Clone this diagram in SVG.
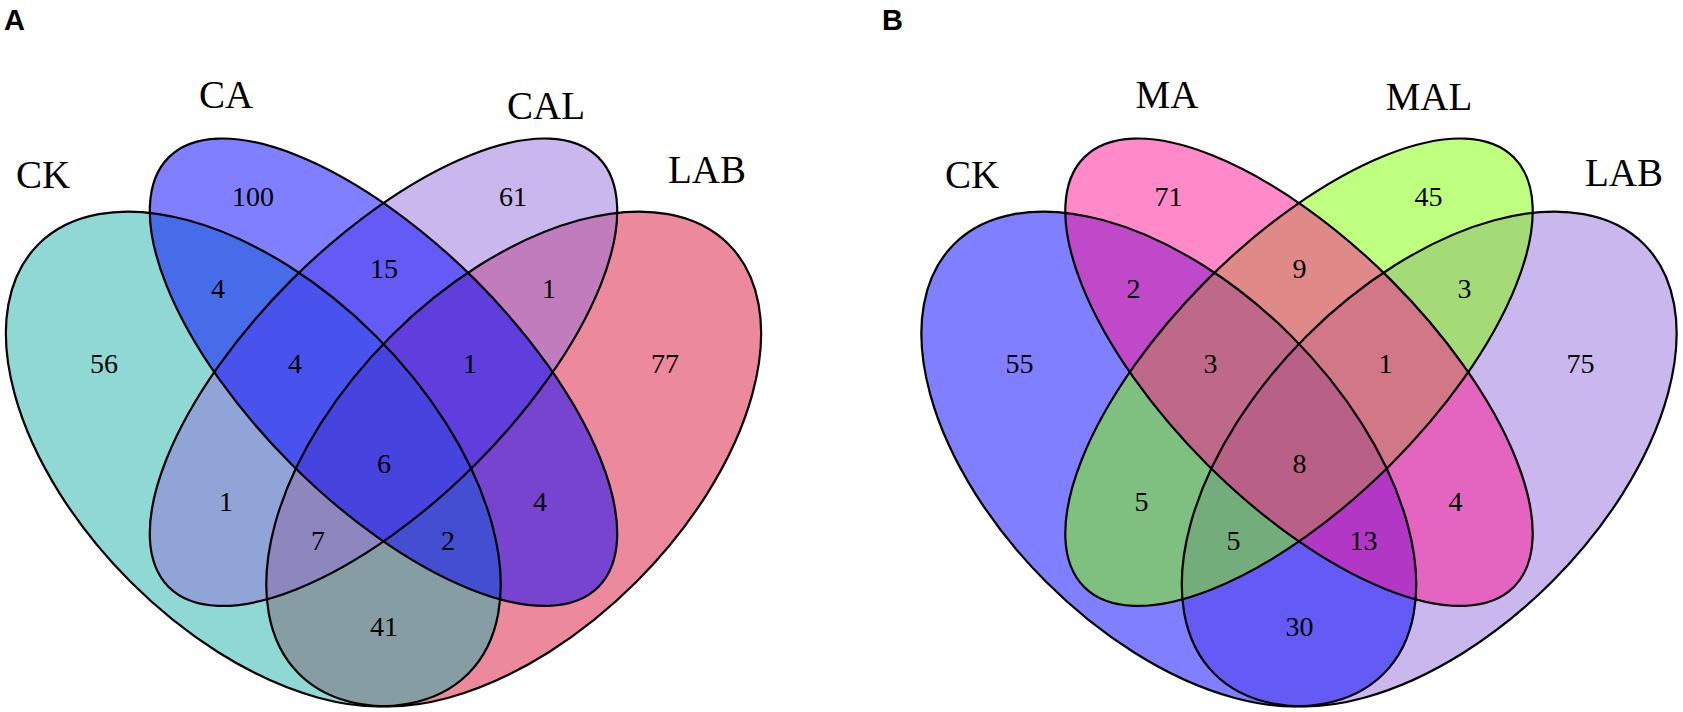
<svg xmlns="http://www.w3.org/2000/svg" width="1683" height="712" viewBox="0 0 1683 712">
<style>
.f{fill-opacity:0.5;stroke:none}
.o{fill:none;stroke:#000;stroke-width:2.2}
.cat{font-family:"Liberation Serif","Times New Roman",serif;font-size:39px;fill:#000;text-anchor:middle}
.n{font-family:"Liberation Serif","Times New Roman",serif;font-size:28px;fill:#000;text-anchor:middle}
.pl{font-family:"Liberation Sans",Arial,sans-serif;font-size:29px;font-weight:bold;fill:#000}
</style>
<rect width="1683" height="712" fill="#fff"/>
<text class="pl" x="4" y="30">A</text>
<text class="pl" x="882" y="30">B</text>

<g id="panelA">
  <g id="A_LAB"><ellipse class="f" fill="#DC143C" transform="translate(513.7,459) rotate(-45)" rx="303.8" ry="173.6"/><text class="cat" x="707" y="183">LAB</text></g>
  <g id="A_CK"><ellipse class="f" fill="#20B2AA" transform="translate(253.3,459) rotate(45)" rx="303.8" ry="173.6"/><text class="cat" x="43" y="188">CK</text></g>
  <g id="A_CAL"><ellipse class="f" fill="#9370DB" transform="translate(383.5,372.2) rotate(-45)" rx="303.8" ry="130.2"/><text class="cat" x="546" y="119">CAL</text></g>
  <g id="A_CA"><ellipse class="f" fill="#0000FF" transform="translate(383.5,372.2) rotate(45)" rx="303.8" ry="130.2"/><text class="cat" x="226" y="108">CA</text></g>
  <g id="A_outlines">
    <ellipse class="o" transform="translate(513.7,459) rotate(-45)" rx="303.8" ry="173.6"/>
    <ellipse class="o" transform="translate(253.3,459) rotate(45)" rx="303.8" ry="173.6"/>
    <ellipse class="o" transform="translate(383.5,372.2) rotate(-45)" rx="303.8" ry="130.2"/>
    <ellipse class="o" transform="translate(383.5,372.2) rotate(45)" rx="303.8" ry="130.2"/>
  </g>
  <g id="A_counts">
    <text class="n" x="253" y="206">100</text>
    <text class="n" x="513" y="206">61</text>
    <text class="n" x="218" y="298">4</text>
    <text class="n" x="384" y="278">15</text>
    <text class="n" x="549" y="298">1</text>
    <text class="n" x="104" y="373">56</text>
    <text class="n" x="295" y="373">4</text>
    <text class="n" x="470" y="373">1</text>
    <text class="n" x="665" y="373">77</text>
    <text class="n" x="384" y="473">6</text>
    <text class="n" x="226" y="511">1</text>
    <text class="n" x="540" y="511">4</text>
    <text class="n" x="318" y="550">7</text>
    <text class="n" x="448" y="550">2</text>
    <text class="n" x="384" y="636">41</text>
  </g>
</g>

<g id="panelB">
  <g id="B_LAB"><ellipse class="f" fill="#9370DB" transform="translate(1429.2,459) rotate(-45)" rx="303.8" ry="173.6"/><text class="cat" x="1624" y="186">LAB</text></g>
  <g id="B_CK"><ellipse class="f" fill="#0000FF" transform="translate(1168.8,459) rotate(45)" rx="303.8" ry="173.6"/><text class="cat" x="972" y="188">CK</text></g>
  <g id="B_MAL"><ellipse class="f" fill="#7FFF00" transform="translate(1299,372.2) rotate(-45)" rx="303.8" ry="130.2"/><text class="cat" x="1429" y="110">MAL</text></g>
  <g id="B_MA"><ellipse class="f" fill="#FF1493" transform="translate(1299,372.2) rotate(45)" rx="303.8" ry="130.2"/><text class="cat" x="1167" y="108">MA</text></g>
  <g id="B_outlines">
    <ellipse class="o" transform="translate(1429.2,459) rotate(-45)" rx="303.8" ry="173.6"/>
    <ellipse class="o" transform="translate(1168.8,459) rotate(45)" rx="303.8" ry="173.6"/>
    <ellipse class="o" transform="translate(1299,372.2) rotate(-45)" rx="303.8" ry="130.2"/>
    <ellipse class="o" transform="translate(1299,372.2) rotate(45)" rx="303.8" ry="130.2"/>
  </g>
  <g id="B_counts">
    <text class="n" x="1168.5" y="206">71</text>
    <text class="n" x="1428.5" y="206">45</text>
    <text class="n" x="1133.5" y="298">2</text>
    <text class="n" x="1299.5" y="278">9</text>
    <text class="n" x="1464.5" y="298">3</text>
    <text class="n" x="1019.5" y="373">55</text>
    <text class="n" x="1210.5" y="373">3</text>
    <text class="n" x="1385.5" y="373">1</text>
    <text class="n" x="1580.5" y="373">75</text>
    <text class="n" x="1299.5" y="473">8</text>
    <text class="n" x="1141.5" y="511">5</text>
    <text class="n" x="1455.5" y="511">4</text>
    <text class="n" x="1233.5" y="550">5</text>
    <text class="n" x="1363.5" y="550">13</text>
    <text class="n" x="1299.5" y="636">30</text>
  </g>
</g>
</svg>
